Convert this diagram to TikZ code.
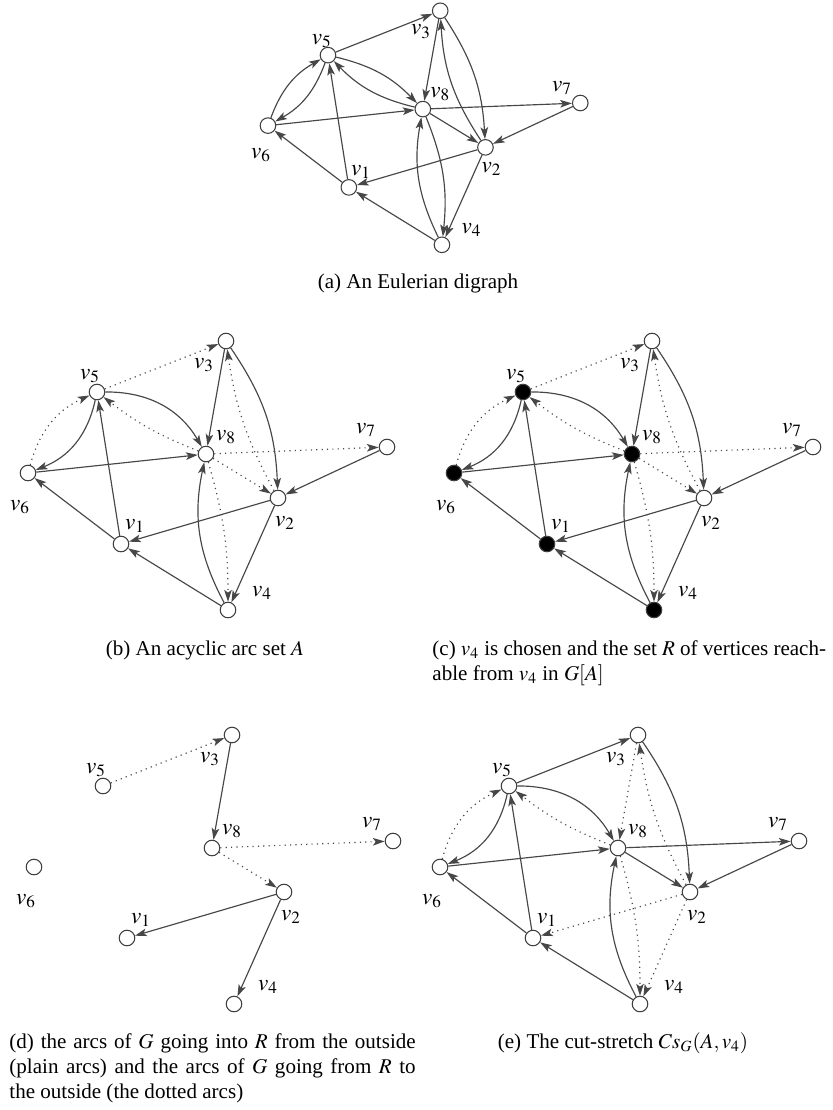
\documentclass[tikz,border=0pt]{standalone}
\usepackage{mathptmx}
\usepackage[no-math]{fontspec}
\setmainfont{Liberation Serif}
\usepackage{xcolor}
\usepackage{tikz}
\usetikzlibrary{arrows.meta}

\definecolor{linegray}{gray}{0.28}

% the eight vertices with their labels, #1 = prefix, #2 = style of the vertices of R
\newcommand{\vertexset}[2]{%
  \node[vtx,#2] (#1v1) at (121,544) {};
  \node[vtx]    (#1v2) at (278,498) {};
  \node[vtx]    (#1v3) at (226,341) {};
  \node[vtx,#2] (#1v4) at (228,610) {};
  \node[vtx,#2] (#1v5) at (97,392) {};
  \node[vtx,#2] (#1v6) at (28,473) {};
  \node[vtx]    (#1v7) at (387,447) {};
  \node[vtx,#2] (#1v8) at (206,454) {};
  \node[lab] (#1l1) at (135,526) {$v_1$};
  \node[lab] (#1l2) at (285,523) {$v_2$};
  \node[lab] (#1l3) at (204,365) {$v_3$};
  \node[lab] (#1l4) at (262,593) {$v_4$};
  \node[lab] (#1l5) at (90,376) {$v_5$};
  \node[lab] (#1l6) at (20,507) {$v_6$};
  \node[lab] (#1l7) at (366,430) {$v_7$};
  \node[lab] (#1l8) at (226,437) {$v_8$};
}

\begin{document}
\begin{tikzpicture}[
    x=0.475pt, y=-0.475pt,
    vtx/.style={circle, draw=black!75, fill=white, line width=0.5pt, minimum size=7.4pt, inner sep=0pt},
    inR/.style={fill=black},
    lab/.style={font=\fontsize{11}{13}\selectfont, inner sep=0pt},
    arc/.style={draw=linegray, line width=0.55pt, -{Stealth[length=5.6pt, width=3.6pt, inset=1.3pt]}},
    darc/.style={arc, dotted},
    lens/.style={bend left=#1},
    subcap/.style={inner sep=0pt},
]
\useasboundingbox (0,0) rectangle (833,1110);

% (a) the Eulerian digraph
\begin{scope}[shift={(243.6,-285.9)}, scale=0.87]
\vertexset{a}{}
\draw[arc] (av5) -- (av3);
\draw[arc] (av3) -- (av8);
\draw[arc] (av3) to[lens=15] (av2);
\draw[arc] (av2) to[lens=15] (av3);
\draw[arc] (av5) to[lens=16] (av8);
\draw[arc] (av8) to[lens=16] (av5);
\draw[arc] (av6) to[lens=20] (av5);
\draw[arc] (av5) to[lens=20] (av6);
\draw[arc] (av6) -- (av8);
\draw[arc] (av1) -- (av5);
\draw[arc] (av1) -- (av6);
\draw[arc] (av2) -- (av1);
\draw[arc] (av4) -- (av1);
\draw[arc] (av8) -- (av7);
\draw[arc] (av7) -- (av2);
\draw[arc] (av8) -- (av2);
\draw[arc] (av2) -- (av4);
\draw[arc] (av8) to[lens=14] (av4);
\draw[arc] (av4) to[lens=18] (av8);
\end{scope}
\node[subcap, anchor=base] (capa) at (418,288) {(a) An Eulerian digraph};

% (b) acyclic arc set
\begin{scope}
\vertexset{b}{}
\draw[arc] (bv3) -- (bv8);
\draw[arc] (bv3) to[lens=16] (bv2);
\draw[arc] (bv5) to[lens=30] (bv8);
\draw[arc] (bv5) to[lens=28] (bv6);
\draw[arc] (bv6) -- (bv8);
\draw[arc] (bv1) -- (bv5);
\draw[arc] (bv1) -- (bv6);
\draw[arc] (bv2) -- (bv1);
\draw[arc] (bv4) -- (bv1);
\draw[arc] (bv7) -- (bv2);
\draw[arc] (bv2) -- (bv4);
\draw[arc] (bv4) to[lens=20] (bv8);
\draw[darc] (bv5) -- (bv3);
\draw[darc] (bv2) to[lens=10] (bv3);
\draw[darc] (bv8) to[lens=8] (bv5);
\draw[darc] (bv6) to[lens=25] (bv5);
\draw[darc] (bv8) -- (bv7);
\draw[darc] (bv8) -- (bv2);
\draw[darc] (bv8) to[lens=8] (bv4);
\end{scope}
\node[subcap, anchor=base] (capb) at (205,655) {(b) An acyclic arc set $A$};

% (c) vertices reachable from v4
\begin{scope}[shift={(426,0)}]
\vertexset{c}{inR}
\draw[arc] (cv3) -- (cv8);
\draw[arc] (cv3) to[lens=16] (cv2);
\draw[arc] (cv5) to[lens=30] (cv8);
\draw[arc] (cv5) to[lens=28] (cv6);
\draw[arc] (cv6) -- (cv8);
\draw[arc] (cv1) -- (cv5);
\draw[arc] (cv1) -- (cv6);
\draw[arc] (cv2) -- (cv1);
\draw[arc] (cv4) -- (cv1);
\draw[arc] (cv7) -- (cv2);
\draw[arc] (cv2) -- (cv4);
\draw[arc] (cv4) to[lens=20] (cv8);
\draw[darc] (cv5) -- (cv3);
\draw[darc] (cv2) to[lens=10] (cv3);
\draw[darc] (cv8) to[lens=8] (cv5);
\draw[darc] (cv6) to[lens=25] (cv5);
\draw[darc] (cv8) -- (cv7);
\draw[darc] (cv8) -- (cv2);
\draw[darc] (cv8) to[lens=8] (cv4);
\end{scope}
\node[subcap, anchor=north west, text width=187pt, align=justify] (capc) at (432,640)
  {(c) $v_4$ is chosen and the set $R$ of vertices reach-\linebreak able from $v_4$ in $G[A]$};

% (d) arcs into and out of R
\begin{scope}[shift={(6,394)}]
\vertexset{d}{}
\draw[darc] (dv5) -- (dv3);
\draw[arc] (dv3) -- (dv8);
\draw[darc] (dv8) -- (dv7);
\draw[darc] (dv8) -- (dv2);
\draw[arc] (dv2) -- (dv1);
\draw[arc] (dv2) -- (dv4);
\end{scope}
\node[subcap, anchor=north west, text width=193pt, align=justify] (capd) at (9,1033)
  {(d) the arcs of $G$ going into $R$ from the outside\linebreak (plain arcs) and the arcs of $G$ going from $R$ to\linebreak the outside (the dotted arcs)};

% (e) the cut-stretch
\begin{scope}[shift={(412,394)}]
\vertexset{e}{}
\draw[arc] (ev5) -- (ev3);
\draw[arc] (ev3) to[lens=16] (ev2);
\draw[arc] (ev5) to[lens=30] (ev8);
\draw[arc] (ev5) to[lens=28] (ev6);
\draw[arc] (ev6) -- (ev8);
\draw[arc] (ev1) -- (ev5);
\draw[arc] (ev1) -- (ev6);
\draw[arc] (ev4) -- (ev1);
\draw[arc] (ev8) -- (ev7);
\draw[arc] (ev7) -- (ev2);
\draw[arc] (ev8) -- (ev2);
\draw[arc] (ev4) to[lens=20] (ev8);
\draw[darc] (ev3) -- (ev8);
\draw[darc] (ev2) to[lens=10] (ev3);
\draw[darc] (ev8) to[lens=8] (ev5);
\draw[darc] (ev6) to[lens=25] (ev5);
\draw[darc] (ev2) -- (ev1);
\draw[darc] (ev2) -- (ev4);
\draw[darc] (ev8) to[lens=8] (ev4);
\end{scope}
\node[subcap, anchor=base] (cape) at (623,1048) {(e) The cut-stretch $Cs_G(A,v_4)$};

\end{tikzpicture}
\end{document}
